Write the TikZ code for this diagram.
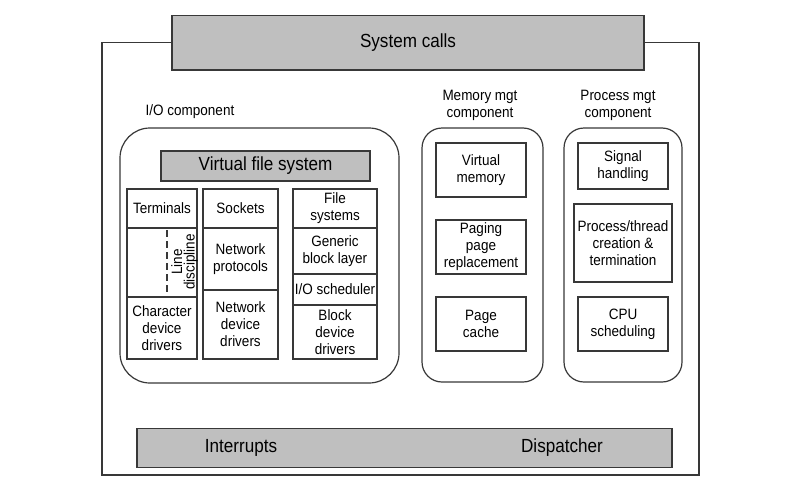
\documentclass[tikz,border=0pt]{standalone}
\usepackage{fontspec}
\setmainfont{Liberation Sans}[FakeStretch=0.9]
\begin{document}
\begin{tikzpicture}[x=1pt,y=-1pt,
  linec/.style={draw=black!78, line width=1.2pt},
  graybar/.style={linec, fill=black!25, inner sep=0pt, font=\fontsize{19}{22}\selectfont},
  cell/.style={linec, fill=white, inner sep=0pt, align=center, font=\fontsize{15}{17}\selectfont},
  comp/.style={linec, inner sep=0pt},
  lbl/.style={inner sep=0pt, align=center, font=\fontsize{15}{17}\selectfont},
  bigtxt/.style={inner sep=0pt, font=\fontsize{19}{22}\selectfont},
]
\useasboundingbox (0,0) rectangle (800,490);
\fill[white] (0,0) rectangle (800,490);

% frame and system calls
\node[graybar, minimum width=472pt, minimum height=54.7pt] (sys) at (408,42.7) {System calls};
\coordinate (ftl) at (102,42.7);
\coordinate (fbl) at (102,475);
\coordinate (fbr) at (699,475);
\coordinate (ftr) at (699,42.7);
\draw[linec] (sys.west) -- (ftl) -- (fbl) -- (fbr) -- (ftr) -- (sys.east);

% bottom bar
\node[graybar, minimum width=535pt, minimum height=38.5pt] (bar) at (404.5,448) {};
\node[bigtxt] (intr) at (241,448) {Interrupts};
\node[bigtxt] (disp) at (562,448) {Dispatcher};

% I/O component
\node[lbl] (iolbl) at (190,112) {I/O component};
\node[comp, rounded corners=30pt, minimum width=279pt, minimum height=255pt] (io) at (259.5,255.5) {};
\node[graybar, minimum width=209pt, minimum height=30pt] (vfs) at (265.5,166) {Virtual file system};

\node[cell, minimum width=70pt, minimum height=39pt] (term) at (162,208.5) {Terminals};
\node[cell, minimum width=70pt, minimum height=69pt] (ldisc) at (162,262.5) {};
\coordinate (dtop) at (167,230);
\coordinate (dbot) at (167,295);
\draw[linec, dash pattern=on 7pt off 4pt] (dtop) -- (dbot);
\node[lbl, rotate=90, font=\fontsize{15}{12.5}\selectfont] (ldtxt) at (184.5,262) {Line\\discipline};
\node[cell, minimum width=70pt, minimum height=62pt] (chr) at (162,328) {Character\\device\\drivers};

\node[cell, minimum width=75pt, minimum height=39pt] (sock) at (240.5,208.5) {Sockets};
\node[cell, minimum width=75pt, minimum height=62pt] (netp) at (240.5,259) {Network\\protocols};
\node[cell, minimum width=75pt, minimum height=69pt] (netd) at (240.5,324.5) {Network\\device\\drivers};

\node[cell, minimum width=84pt, minimum height=39pt] (fs) at (335,208.5) {File\\systems};
\node[cell, minimum width=84pt, minimum height=46pt] (gbl) at (335,251) {Generic\\block layer};
\node[cell, minimum width=84pt, minimum height=31pt] (iosch) at (335,289.5) {I/O scheduler};
\node[cell, minimum width=84pt, minimum height=54pt] (bdd) at (335,332) {Block\\device\\drivers};

% Memory mgt
\node[lbl] (memlbl) at (480,105) {Memory mgt\\component};
\node[comp, rounded corners=20pt, minimum width=121pt, minimum height=254pt] (mem) at (482.5,255) {};
\node[cell, minimum width=90pt, minimum height=54pt] (vm) at (481,170) {Virtual\\memory};
\node[cell, minimum width=90pt, minimum height=54pt] (pg) at (481,247) {Paging\\page\\replacement};
\node[cell, minimum width=90pt, minimum height=54pt] (pc) at (481,324) {Page\\cache};

% Process mgt
\node[lbl] (proclbl) at (618,105) {Process mgt\\component};
\node[comp, rounded corners=20pt, minimum width=118pt, minimum height=254pt] (proc) at (623,255) {};
\node[cell, minimum width=90pt, minimum height=46pt] (sig) at (623,166) {Signal\\handling};
\node[cell, minimum width=98pt, minimum height=78pt] (pt) at (623,243) {Process/thread\\creation \&\\termination};
\node[cell, minimum width=90pt, minimum height=54pt] (cpu) at (623,324) {CPU\\scheduling};
\end{tikzpicture}
\end{document}
